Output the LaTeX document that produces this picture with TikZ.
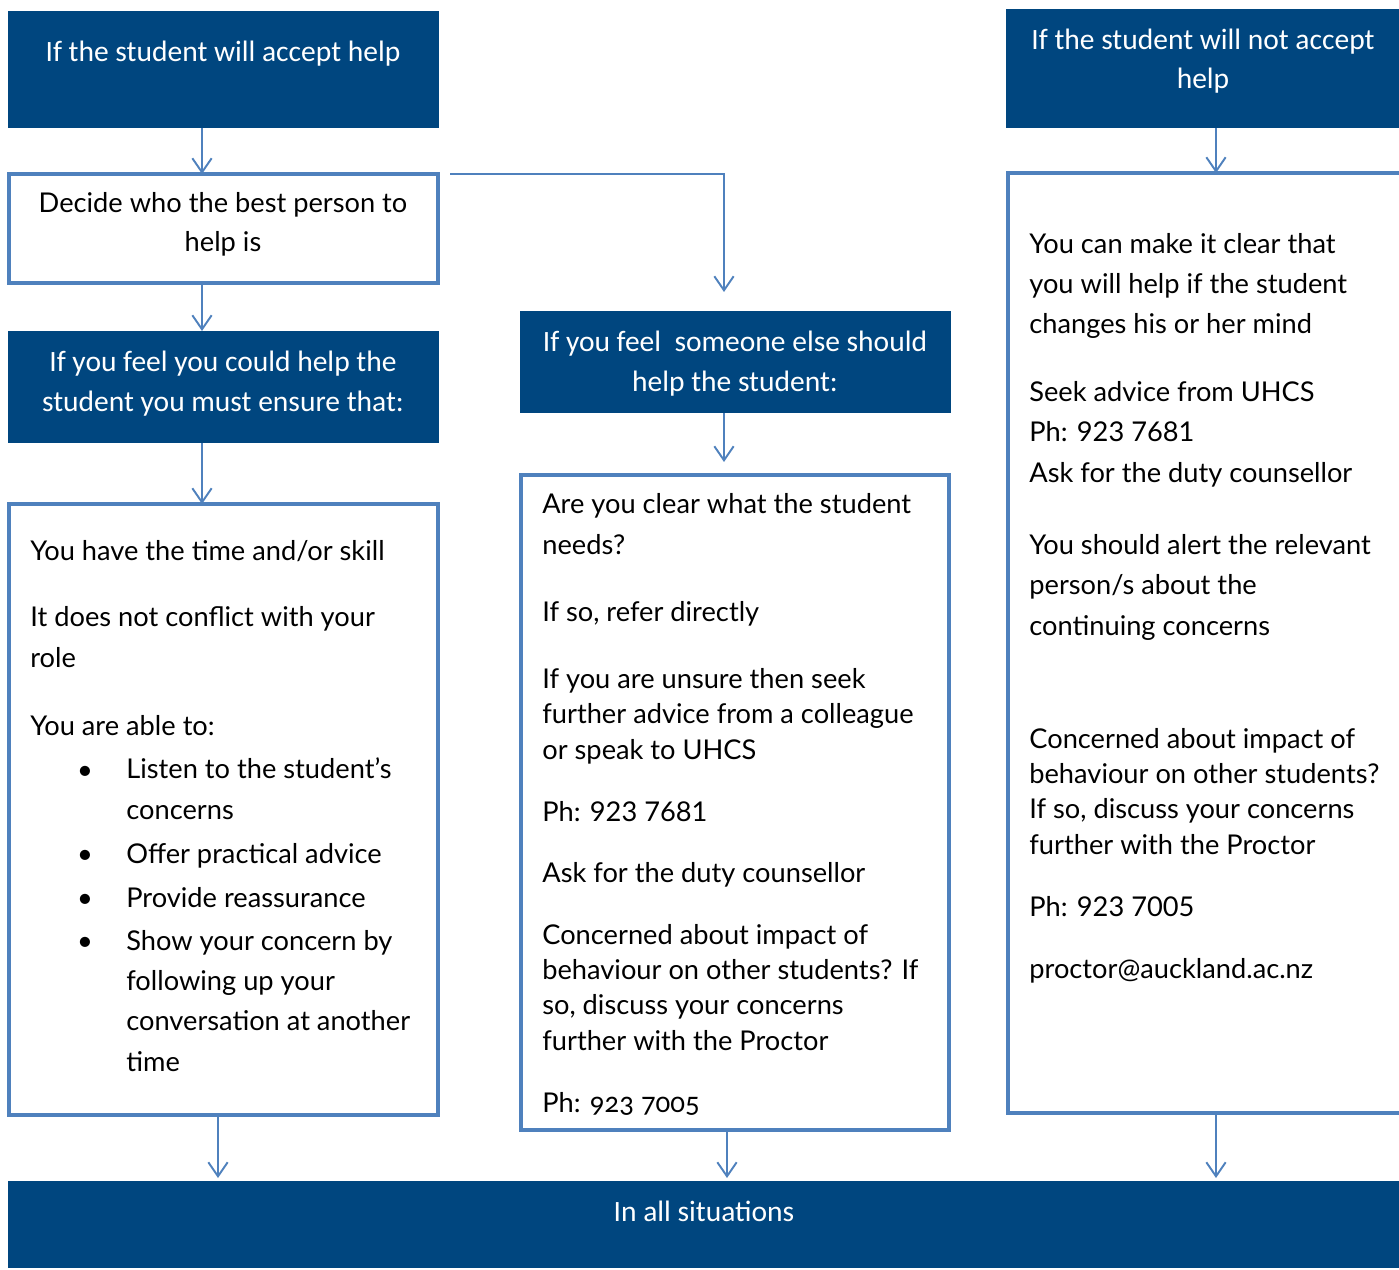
\documentclass[tikz,border=0pt]{standalone}
\usepackage{fontspec}
\setmainfont{Lato}
\newfontfamily\headfont{Carlito}
\usetikzlibrary{positioning,arrows.meta}
\definecolor{uoablue}{RGB}{0,70,127}
\definecolor{lineblue}{RGB}{79,129,189}

\tikzset{
  darkbox/.style={fill=uoablue, inner sep=0pt, outer sep=0pt},
  linebox/.style={draw=lineblue, line width=2.3pt, inner sep=0pt, outer sep=0pt},
  head/.style={anchor=base, align=center, inner sep=0pt, text=white, font=\headfont\fontsize{16.8}{22.7}\selectfont},
  mid/.style={head, text=black, font=\fontsize{15.5}{22.7}\selectfont},
  body/.style={anchor=base west, align=left, inner sep=0pt, font=\fontsize{15.5}{22.9}\selectfont},
  tight/.style={body, font=\fontsize{15.5}{20.0}\selectfont},
  arr/.style={draw=lineblue, line width=1.1pt, -{Straight Barb[length=8pt,width=11pt]}},
}

\begin{document}
\begin{tikzpicture}[x=0.02cm, y=-0.02cm]
        \useasboundingbox (0,0) rectangle (1399,1270);

        % boxes
        \node[darkbox, minimum width=431*0.02cm, minimum height=117*0.02cm] (acc) at (223.5,69.5) {};
        \node[darkbox, minimum width=395*0.02cm, minimum height=119*0.02cm] (rej) at (1203.5,68.5) {};
        \node[linebox, minimum width=429*0.02cm, minimum height=109*0.02cm] (dec) at (223.5,228.5) {};
        \node[darkbox, minimum width=431*0.02cm, minimum height=112*0.02cm] (can) at (223.5,387) {};
        \node[linebox, minimum width=429*0.02cm, minimum height=611*0.02cm] (ensure) at (223.5,809.5) {};
        \node[darkbox, minimum width=431*0.02cm, minimum height=102*0.02cm] (else) at (735.5,362) {};
        \node[linebox, minimum width=428*0.02cm, minimum height=655*0.02cm] (refer) at (735,802.5) {};
        \node[linebox, minimum width=394*0.02cm, minimum height=940*0.02cm] (stay) at (1205,643) {};
        \node[darkbox, minimum width=1393*0.02cm, minimum height=87*0.02cm] (all) at (704.5,1224.5) {};

        % headings (base = last line)
        \node[head] (accT) at (223,62) {If the student will accept help};
        \node[head] (rejT) at (1203,89) {If the student will not accept\\help};
        \node[mid] (decT) at (223,252) {Decide who the best person to\\help is};
        \node[head] (canT) at (223,411) {If you feel you could help the\\student you must ensure that:};
        \node[head] (elseT) at (735,391) {If you feel\ \ someone else should\\help the student:};
        \node[head] (allT) at (704,1221) {In all situations};

        % left column
        \node[body] (time) at (30,560) {You have the time and/or skill};
        \node[body] (role) at (30,667) {It does not conflict with your\\role};
        \node[body] (able) at (30,735) {You are able to:};
        \foreach \y/\n in {779/b1, 863/b2, 907/b3, 950/b4}
          \node[body, anchor=base] (\n) at (85,\y) {\textbullet};
        \node[body] (listen) at (126,819) {Listen to the student’s\\concerns};
        \node[body] (offer) at (126,863) {Offer practical advice};
        \node[body] (provide) at (126,907) {Provide reassurance};
        \node[body] (show) at (126,1071) {Show your concern by\\following up your\\conversation at another\\time};

        % middle column
        \node[body] (clear) at (542,554) {Are you clear what the student\\needs?};
        \node[body] (direct) at (542,621) {If so, refer directly};
        \node[tight] (unsure) at (542,759) {If you are unsure then seek\\further advice from a colleague\\or speak to UHCS};
        \node[body] (phM) at (542,821) {Ph: 923 7681};
        \node[body] (dutyM) at (542,882) {Ask for the duty counsellor};
        \node[tight] (impactM) at (542,1050) {Concerned about impact of\\behaviour on other students? If\\so, discuss your concerns\\further with the Proctor};
        \node[body] (procM) at (542,1112) {\addfontfeatures{Numbers=OldStyle}Ph: 923 7005};

        % right column
        \node[body] (mind) at (1029,334) {You can make it clear that\\you will help if the student\\changes his or her mind};
        \node[body] (seek) at (1029,482) {Seek advice from UHCS\\Ph: 923 7681\\Ask for the duty counsellor};
        \node[body] (alert) at (1029,635) {You should alert the relevant\\person/s about the\\continuing concerns};
        \node[tight] (impactR) at (1029,854) {Concerned about impact of\\behaviour on other students?\\If so, discuss your concerns\\further with the Proctor};
        \node[body] (procR) at (1029,916) {Ph: 923 7005};
        \node[body] (mail) at (1029,978) {proctor@auckland.ac.nz};

        % connectors
        \coordinate (colL) at (202,0);
        \coordinate (colLb) at (218,0);
        \coordinate (colM) at (724,0);
        \coordinate (colMb) at (727,0);
        \coordinate (colR) at (1216,0);
        \draw[arr] (acc.south -| colL) -- (dec.north -| colL);
        \draw[arr] (dec.south -| colL) -- (can.north -| colL);
        \draw[arr] (can.south -| colL) -- (ensure.north -| colL);
        \draw[arr, shorten <=0.24cm, shorten >=0.38cm] (dec.north east) -| (else.north -| colM);
        \draw[arr, shorten >=0.26cm] (else.south -| colM) -- (refer.north -| colM);
        \draw[arr] (rej.south -| colR) -- (stay.north -| colR);
        \draw[arr, shorten >=0.06cm] (ensure.south -| colLb) -- (all.north -| colLb);
        \draw[arr, shorten >=0.06cm] (refer.south -| colMb) -- (all.north -| colMb);
        \draw[arr, shorten >=0.06cm] (stay.south -| colR) -- (all.north -| colR);
    \end{tikzpicture}
\end{document}
